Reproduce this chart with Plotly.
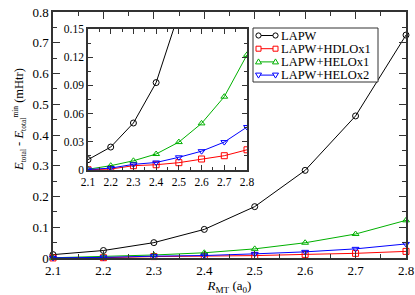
import plotly.graph_objects as go

r_mt = [2.1, 2.2, 2.3, 2.4, 2.5, 2.6, 2.7, 2.8]
lapw = [0.011, 0.0244, 0.050, 0.093, 0.167, 0.285, 0.462, 0.725]
hdlo1 = [0.0003, 0.001, 0.0046, 0.0056, 0.0078, 0.0117, 0.0152, 0.0215]
helo1 = [0.0008, 0.0046, 0.0098, 0.017, 0.0297, 0.0496, 0.078, 0.1225]
helo2 = [0.0005, 0.002, 0.006, 0.008, 0.0135, 0.020, 0.0297, 0.0457]

names = ["LAPW", "LAPW+HDLOx1", "LAPW+HELOx1", "LAPW+HELOx2"]
series = [lapw, hdlo1, helo1, helo2]
colors = ["#000000", "#ff0000", "#00b000", "#0000ff"]
symbols = ["circle-open", "square-open", "triangle-up-open", "triangle-down-open"]

x_ticks = [2.1, 2.2, 2.3, 2.4, 2.5, 2.6, 2.7, 2.8]
x_ticklabels = ["2.1", "2.2", "2.3", "2.4", "2.5", "2.6", "2.7", "2.8"]
y_ticks = [0, 0.1, 0.2, 0.3, 0.4, 0.5, 0.6, 0.7, 0.8]
y_ticklabels = ["0", "0.1", "0.2", "0.3", "0.4", "0.5", "0.6", "0.7", "0.8"]
y2_ticks = [0, 0.03, 0.06, 0.09, 0.12, 0.15]
y2_ticklabels = ["0", "0.03", "0.06", "0.09", "0.12", "0.15"]

FONT = "Liberation Serif, Times New Roman, serif"
fig = go.Figure()

for ax, ay in (("x", "y"), ("x2", "y2")):
    for nm, ys, c, s in zip(names, series, colors, symbols):
        fig.add_trace(go.Scatter(x=r_mt, y=ys, mode="lines+markers", name=nm, showlegend=False,
                                 line=dict(color=c, width=1),
                                 marker=dict(symbol=s, size=6, color=c, line=dict(width=1, color=c)),
                                 xaxis=ax, yaxis=ay, cliponaxis=(ax == "x2")))

ax_common = dict(showline=True, linecolor="#333333", linewidth=1.5, mirror="allticks",
                 ticks="inside", tickcolor="#333333", showgrid=False, zeroline=False,
                 automargin=False, ticklabeloverflow="allow")

# plot-area geometry in pixels (for converting legend/inset placement to paper fractions)
L, R, T, B = 53, 406, 12, 258
def px(x): return (x - L) / (R - L)
def py(y): return (B - y) / (B - T)

ix0, ix1 = px(88), px(247)
iy0, iy1 = py(170), py(29)

shapes = [dict(type="rect", xref="paper", yref="paper", x0=ix0, x1=ix1, y0=iy0, y1=iy1,
               fillcolor="white", line=dict(width=0), layer="below")]
annotations = []

# hand-built legend (box, sample lines, symbols, labels)
shapes.append(dict(type="rect", xref="paper", yref="paper", x0=px(253), x1=px(378),
                   y0=py(82), y1=py(28), fillcolor="white", line=dict(color="#333333", width=1),
                   layer="above"))
row_y = [35.5, 48.7, 61.9, 75.1]
lx0, lx1 = 258.5, 275.5
sym_paths = {
    "circle-open": None,
    "square-open": "M-2.5,-2.5 L2.5,-2.5 L2.5,2.5 L-2.5,2.5 Z",
    "triangle-up-open": "M-3,-2 L3,-2 L0,3 Z",
    "triangle-down-open": "M-3,2 L3,2 L0,-3 Z",
}
for nm, c, s, ry in zip(names, colors, symbols, row_y):
    shapes.append(dict(type="line", xref="paper", yref="paper", x0=px(lx0), x1=px(lx1),
                       y0=py(ry), y1=py(ry), line=dict(color=c, width=1)))
    for mx in (lx0, lx1):
        common = dict(xref="paper", yref="paper", xsizemode="pixel", ysizemode="pixel",
                      xanchor=px(mx), yanchor=py(ry), fillcolor="white",
                      line=dict(color=c, width=1))
        if sym_paths[s] is None:
            shapes.append(dict(type="circle", x0=-2.6, x1=2.6, y0=-2.6, y1=2.6, **common))
        else:
            shapes.append(dict(type="path", path=sym_paths[s], **common))
    annotations.append(dict(text=nm, xref="paper", yref="paper", x=px(280), y=py(ry),
                            xanchor="left", yanchor="middle", showarrow=False, height=12,
                            borderpad=0, font=dict(family=FONT, size=12.5, color="black")))

sm = '<span style="font-size:7.5px">'
ytitle = ("<i>E</i><sub>" + sm + "total</span></sub> - <i>E</i><sub>" + sm + "total</span></sub>"
          "<sup>" + sm + "min</span></sup> (mHtr)")
annotations.append(dict(text=ytitle, xref="paper", yref="paper", x=px(20), y=py(120),
                        textangle=-90, showarrow=False, xanchor="center", yanchor="middle",
                        font=dict(family=FONT, size=12.5)))

fig.update_layout(
    width=415, height=295,
    margin=dict(l=L, r=415 - R, t=T, b=295 - B),
    paper_bgcolor="white", plot_bgcolor="white",
    font=dict(family=FONT, color="black", size=13),
    showlegend=False,
    xaxis=dict(**ax_common, range=[2.1, 2.8], tickvals=x_ticks, ticktext=x_ticklabels,
               ticklen=7, tickwidth=1, tickfont=dict(family=FONT, size=13),
               minor=dict(ticks="inside", dtick=0.05, tick0=2.1, ticklen=4, tickcolor="#333333"),
               title=dict(text="<i>R</i><sub>MT</sub> (a<sub>0</sub>)", font=dict(family=FONT, size=13), standoff=2)),
    yaxis=dict(**ax_common, range=[0, 0.8], ticklen=7, tickwidth=1,
               tickvals=y_ticks, ticktext=y_ticklabels,
               tickfont=dict(family=FONT, size=13),
               minor=dict(ticks="inside", dtick=0.05, ticklen=4, tickcolor="#333333")),
    xaxis2=dict(**ax_common, domain=[ix0, ix1], anchor="y2", range=[2.1, 2.8],
                tickvals=x_ticks, ticktext=x_ticklabels,
                ticklen=5, tickwidth=1, tickfont=dict(family=FONT, size=11.5),
                minor=dict(ticks="inside", dtick=0.05, tick0=2.1, ticklen=3, tickcolor="#333333")),
    yaxis2=dict(**ax_common, domain=[iy0, iy1], anchor="x2", range=[0, 0.15],
                tickvals=y2_ticks, ticktext=y2_ticklabels,
                ticklen=5, tickwidth=1, tickfont=dict(family=FONT, size=11.5),
                minor=dict(ticks="inside", dtick=0.015, ticklen=3, tickcolor="#333333")),
    shapes=shapes,
    annotations=annotations,
)

fig.write_html("out.html", config={"displayModeBar": False},
               post_script="document.body.style.margin='0';document.body.style.overflow='hidden';")
